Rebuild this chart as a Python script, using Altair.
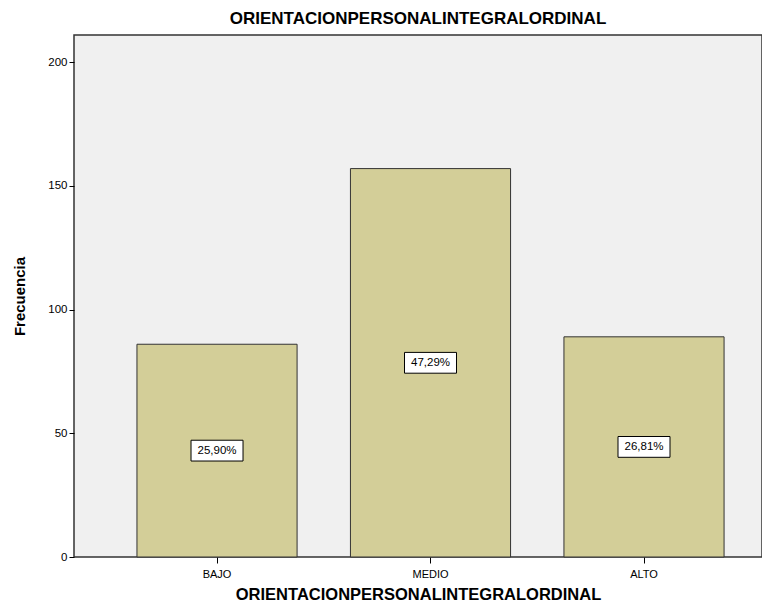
import altair as alt
import pandas as pd

categories = ["BAJO", "MEDIO", "ALTO"]
counts = [86, 157, 89]
pct_labels = ["25,90%", "47,29%", "26,81%"]
title_text = "ORIENTACIONPERSONALINTEGRALORDINAL"

df = pd.DataFrame({"cat": categories, "count": counts, "pct": pct_labels})
df["mid"] = df["count"] / 2

FONT = "Liberation Sans"

x = alt.X("cat:N", sort=categories,
          scale=alt.Scale(paddingInner=0.25, paddingOuter=0.2363, align=0.624),
          axis=alt.Axis(title=title_text, labelAngle=0, domain=False, tickColor="#000",
                        tickSize=6, labelFontSize=11, labelColor="#000", labelFont=FONT,
                        titleFont=FONT, titleFontSize=16.5, titleFontWeight="bold",
                        titleColor="#000", titlePadding=7, labelPadding=5))
y = alt.Y("count:Q", scale=alt.Scale(domain=[0, 211], nice=False),
          axis=alt.Axis(title="Frecuencia", values=[0, 50, 100, 150, 200], grid=False,
                        domain=False, tickColor="#000", tickSize=5, labelFontSize=11.5,
                        labelColor="#000", labelFont=FONT, titleFont=FONT,
                        titleFontSize=15, titleFontWeight="bold", titleColor="#000",
                        titlePadding=20, labelPadding=2))

bars = alt.Chart(df).mark_bar(color="#D3CE98", stroke="#333", strokeWidth=1).encode(x=x, y=y)

boxes = alt.Chart(df).mark_point(
    shape="M-1,-0.4L1,-0.4L1,0.4L-1,0.4Z", size=2704, filled=True,
    fill="#fff", stroke="#000", strokeWidth=1, opacity=1
).encode(x=alt.X("cat:N", sort=categories), y=alt.Y("mid:Q"))

texts = alt.Chart(df).mark_text(font=FONT, fontSize=11.5, color="#000").encode(
    x=alt.X("cat:N", sort=categories), y=alt.Y("mid:Q"), text="pct:N")

chart = alt.layer(bars, boxes, texts).properties(
    width=688, height=522,
    title=alt.TitleParams(title_text, font=FONT, fontSize=17, fontWeight="bold",
                          color="#000", offset=7, anchor="middle"),
    padding={"left": 4, "top": 2, "right": 0, "bottom": 0},
).configure_view(fill="#F0F0F0", stroke="#333", strokeWidth=1.5)

chart.save("out.html", embed_options={"renderer": "svg", "actions": False})
